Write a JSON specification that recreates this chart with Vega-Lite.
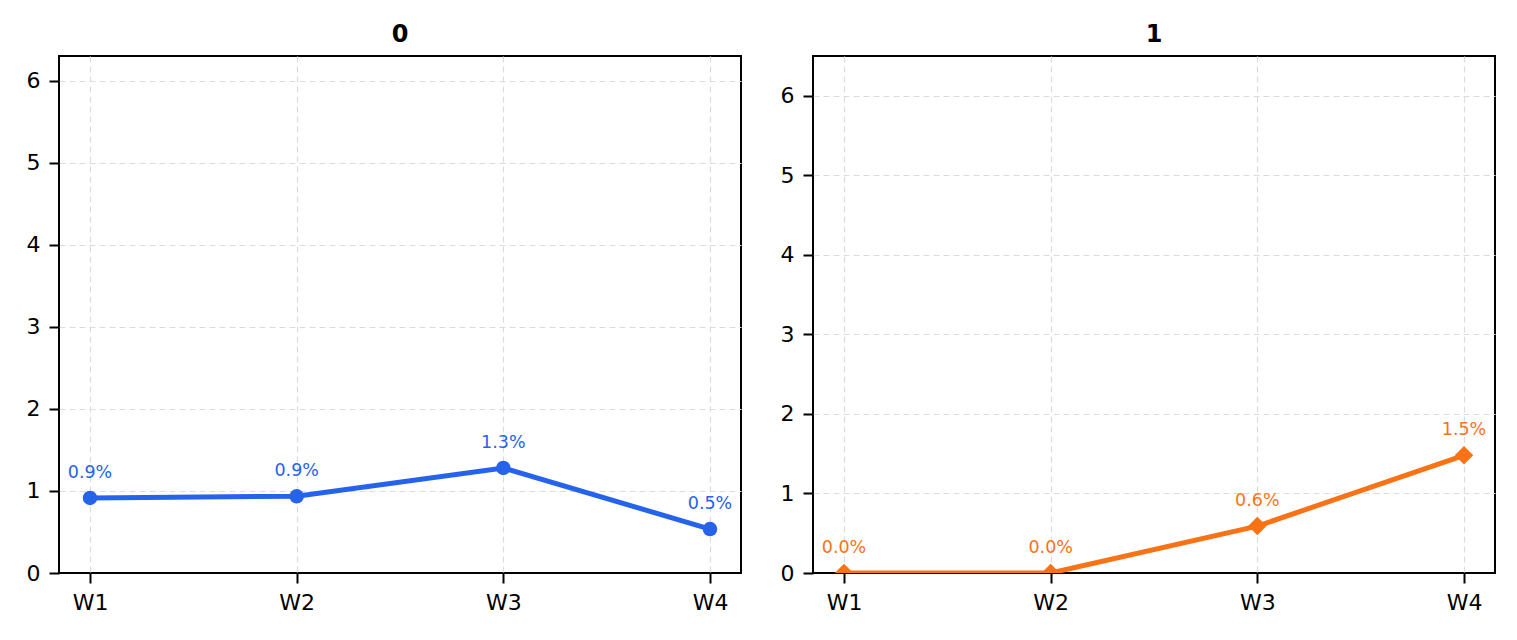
{
  "$schema": "https://vega.github.io/schema/vega-lite/v6.json",
  "background": "white",
  "padding": {"left": 25, "top": 22, "right": 0, "bottom": 0},
  "bounds": "flush",
  "spacing": 72,
  "config": {
    "font": "DejaVu Sans",
    "view": {"stroke": "black", "strokeWidth": 2},
    "axis": {
      "domain": false,
      "grid": true,
      "gridColor": "#dcdcdc",
      "gridDash": [6, 4],
      "gridWidth": 1.2,
      "gridOpacity": {"condition": {"test": "datum.value === 0", "value": 0}, "value": 1},
      "tickColor": "black",
      "tickSize": 10,
      "tickWidth": 2,
      "labelColor": "black",
      "labelFontSize": 22,
      "labelFont": "DejaVu Sans",
      "labelPadding": 9,
      "title": null
    },
    "title": {"fontSize": 24, "fontWeight": "bold", "font": "DejaVu Sans", "offset": 9, "color": "black"}
  },
  "hconcat": [
    {
      "title": "0",
      "width": 682,
      "height": 517,
      "data": {
        "values": [
          {"week": "W1", "rate": 0.915, "label": "0.9%"},
          {"week": "W2", "rate": 0.935, "label": "0.9%"},
          {"week": "W3", "rate": 1.28, "label": "1.3%"},
          {"week": "W4", "rate": 0.535, "label": "0.5%"}
        ]
      },
      "encoding": {
        "x": {
          "field": "week",
          "type": "ordinal",
          "scale": {"type": "point", "padding": 0.15},
          "axis": {"labelAngle": 0}
        },
        "y": {
          "field": "rate",
          "type": "quantitative",
          "scale": {"domain": [0, 6.3], "nice": false},
          "axis": {"values": [0, 1, 2, 3, 4, 5, 6]}
        }
      },
      "layer": [
        {"mark": {"type": "line", "color": "#2563eb", "strokeWidth": 5}},
        {"mark": {"type": "point", "shape": "circle", "filled": true, "opacity": 1, "color": "#2563eb", "size": 210}},
        {
          "mark": {"type": "text", "color": "#2563eb", "fontSize": 17.5, "baseline": "bottom", "dy": -16},
          "encoding": {"text": {"field": "label"}}
        }
      ]
    },
    {
      "title": "1",
      "width": 682,
      "height": 517,
      "data": {
        "values": [
          {"week": "W1", "rate": 0.0, "label": "0.0%"},
          {"week": "W2", "rate": 0.0, "label": "0.0%"},
          {"week": "W3", "rate": 0.59, "label": "0.6%"},
          {"week": "W4", "rate": 1.48, "label": "1.5%"}
        ]
      },
      "encoding": {
        "x": {
          "field": "week",
          "type": "ordinal",
          "scale": {"type": "point", "padding": 0.15},
          "axis": {"labelAngle": 0}
        },
        "y": {
          "field": "rate",
          "type": "quantitative",
          "scale": {"domain": [0, 6.5], "nice": false},
          "axis": {"values": [0, 1, 2, 3, 4, 5, 6]}
        }
      },
      "layer": [
        {"mark": {"type": "line", "color": "#f97316", "strokeWidth": 5, "clip": true}},
        {"mark": {"type": "point", "shape": "diamond", "filled": true, "opacity": 1, "color": "#f97316", "size": 340, "clip": true}},
        {
          "mark": {"type": "text", "color": "#f97316", "fontSize": 17.5, "baseline": "bottom", "dy": -16},
          "encoding": {"text": {"field": "label"}}
        }
      ]
    }
  ]
}
